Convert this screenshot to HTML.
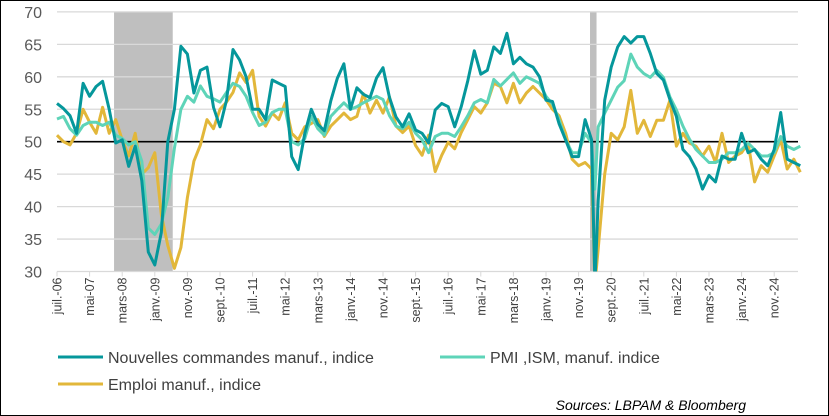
<!DOCTYPE html>
<html><head><meta charset="utf-8">
<style>
body{margin:0;background:#fff;}
#wrap{position:relative;width:829px;height:416px;box-sizing:border-box;border:1px solid #000;overflow:hidden;font-family:"Liberation Sans",sans-serif;}
svg text{font-family:"Liberation Sans",sans-serif;}
</style></head>
<body>
<div id="wrap">
<svg id="chart" width="829" height="416" style="position:absolute;left:-1px;top:-1px"></svg>
</div>
<script>
// month index from juil.-06 (0)
const months = [];
for (let m = 0; m <= 164; m += 2) months.push(m);
months.push(165);
for (let m = 166; m <= 228; m += 2) months.push(m);

const newOrders = [55.9,55.1,54,51.3,59,57,58.5,59.3,55,49.8,50.3,46.2,49.3,44,33,31,36,50,55,64.7,63.5,57.5,61,61.5,55.3,52.3,56.4,64.2,62.6,60,55,55,53.4,59.5,59,58.5,47.7,45.7,51.3,
55,52.7,51.7,56.3,59.8,62,55,58.3,57.3,56.8,59.8,61.4,56.8,53.8,52.3,54.3,51.8,51.3,49.8,54.9,55.9,55.4,52.3,55.4,59.4,64,60.4,61,64.6,63.6,66.7,62,63,62,61.5,60,56.4,56.2,52.8,50.3,47.7,47.7,53.4,50.3,
28,
41,56.4,61.5,64.6,66.2,65.2,66.2,66.2,63.6,60.5,59.5,56.5,53.9,48.8,47.7,45.8,42.7,44.8,43.8,47.8,47.3,47.3,51.3,48.3,48.8,47.3,46.3,48.8,54.5,47.3,46.8,46.3];
const pmi = [53.5,53.9,52,51,52.5,53,53,52.5,53,51,50.5,49.5,50,47,36.7,35.7,37.3,41.4,49,55,57,56.1,58.6,57,56.6,56.1,57.6,59,58.5,57,54.5,52.5,53,54.5,55,55,50,49.5,50.5,
53.9,52,51,53.9,55,56,55,55.4,56,56.5,57,56.5,54,52.4,52,53,51.3,50.3,48.3,50.8,51.3,51.3,50.8,52.3,54,56,56.5,56,59.6,58.6,59.6,60.6,59,60,59.5,59,57,55.8,53.4,50.3,48.3,48.3,51.3,49.8,
42.7,
52.3,54.4,56.4,58.4,59.4,63.5,61.5,60.5,59.9,61,59.9,56.9,54.9,52.4,50.4,48.8,47.8,46.8,46.8,47.3,48.3,48.3,48.8,49.8,48.8,47.8,47.8,48.3,50.8,49.3,48.8,49.3];
const employment = [51,50,49.5,51.3,55,53,51.3,55.3,51.3,53.4,50.3,47.8,51.3,45,46,48.3,38.8,34,30.5,33.7,41.4,47,49.5,53.4,52,55,56.1,57.6,60.6,59.1,61,53.9,52.4,54.4,53.4,56,51.3,50.3,52.3,
52.8,53.4,50.8,52.4,53.4,54.4,53.4,53.9,57.4,54.4,56.4,54.4,56.9,52.4,51.4,52.4,49.4,47.9,51,45.4,47.9,49.9,48.9,51.4,53.4,55.4,54.4,56,59,58.5,56,59,56,57.5,58.5,57.5,56.5,55,54,51.3,47.3,46.3,46.8,45.8,
28,
33.5,45,51.3,50.3,52.3,57.9,51.3,53.3,50.8,53.3,53.3,56.4,49.3,51.3,49.8,49.3,47.8,49.3,46.8,51.3,46.8,47.8,48.3,49.8,43.8,46.3,45.3,47.8,50.3,45.8,47.3,45.3];
const yTicks = [30,35,40,45,50,55,60,65,70];
const xLabels = ["juil.-06","mai-07","mars-08","janv.-09","nov.-09","sept.-10","juil.-11","mai-12","mars-13","janv.-14","nov.-14","sept.-15","juil.-16","mai-17","mars-18","janv.-19","nov.-19","sept.-20","juil.-21","mai-22","mars-23","janv.-24","nov.-24"];
const recessions = [[17.5,35.5],[163.5,165.5]];

const NS = "http://www.w3.org/2000/svg";
const svg = document.getElementById("chart");
const X0 = 57, PXM = 3.26, Y30 = 271.5, PXU = 6.49;
const xs = m => X0 + m * PXM;
const ys = v => Y30 - (v - 30) * PXU;
function mk(tag, attrs) { const e = document.createElementNS(NS, tag); for (const k in attrs) e.setAttribute(k, attrs[k]); svg.appendChild(e); return e; }

const defs = mk("defs", {});
const cp = document.createElementNS(NS, "clipPath"); cp.setAttribute("id", "plotclip");
const cr = document.createElementNS(NS, "rect"); cr.setAttribute("x", 50); cr.setAttribute("y", ys(70) - 2); cr.setAttribute("width", 760); cr.setAttribute("height", Y30 - ys(70) + 2);
cp.appendChild(cr); defs.appendChild(cp);

recessions.forEach(r => {
  const e = mk("rect", {x: xs(r[0]), y: ys(70), width: xs(r[1]) - xs(r[0]), height: Y30 - ys(70), fill: "#bfbfbf"});
  
  
});
yTicks.forEach(t => {
  const g = mk("line", {x1: X0, x2: 798, y1: ys(t), y2: ys(t), stroke: "#d9d9d9", "stroke-width": 1.3});
  
  
  const l = mk("text", {x: 42, y: ys(t) + 6, "text-anchor": "end", "font-size": 16, fill: "#595959"});
  l.textContent = t;
  
  
});
xLabels.forEach((s, i) => {
  const x = xs(i * 10);
  const tk = mk("line", {x1: x, x2: x, y1: Y30, y2: Y30 + 5, stroke: "#d9d9d9", "stroke-width": 1});
  
  
  const t = mk("text", {x: 0, y: 0, "text-anchor": "end", "font-size": 12.5, fill: "#404040", transform: `translate(${x + 4.5},${Y30 + 6}) rotate(-90)`});
  t.textContent = s;
  
  
});
const ref = mk("line", {x1: X0, x2: 798, y1: ys(50), y2: ys(50), stroke: "#000", "stroke-width": 1.6});



function series(vals, color, name) {
  const d = vals.map((v, i) => (i ? "L" : "M") + xs(months[i]).toFixed(1) + "," + ys(v).toFixed(1)).join("");
  const p = mk("path", {d: d, fill: "none", stroke: color, "stroke-width": 3, "stroke-linejoin": "round", "clip-path": "url(#plotclip)"});
  
  
}
series(employment, "#e2b73a", "employment-line");
series(pmi, "#5ed4b8", "pmi-line");
series(newOrders, "#05979b", "new-orders-line");

const legend = [[58, 357, "#05979b", "Nouvelles commandes manuf., indice", "legend-new-orders"],
                [440, 357, "#5ed4b8", "PMI ,ISM, manuf. indice", "legend-pmi"],
                [58, 384, "#e2b73a", "Emploi manuf., indice", "legend-employment"]];
legend.forEach(L => {
  const ln = mk("line", {x1: L[0], x2: L[0] + 45, y1: L[1], y2: L[1], stroke: L[2], "stroke-width": 3});
  
  
  const t = mk("text", {x: L[0] + 50, y: L[1] + 6, "font-size": 16, fill: "#404040"});
  t.textContent = L[3];
  
  
});
const src = mk("text", {x: 746, y: 410, "text-anchor": "end", "font-size": 14, "font-style": "italic", fill: "#000"});
src.textContent = "Sources: LBPAM & Bloomberg";


</script>
</body></html>
